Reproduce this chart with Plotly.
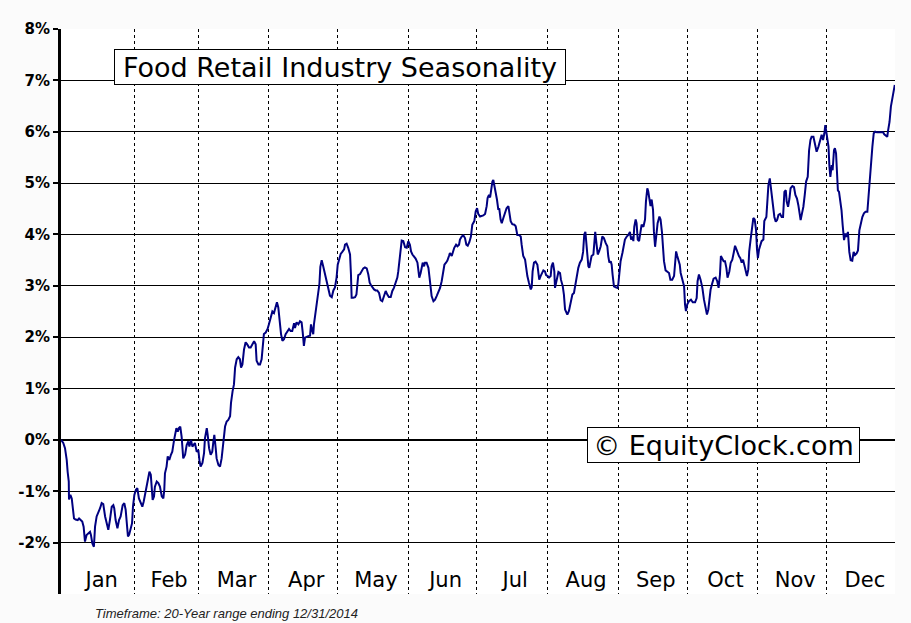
import numpy as np
import plotly.graph_objects as go

# average seasonal path (x = day of year, y = cumulative return in %)
day_of_year = [
    0.0, 1.0, 1.75, 2.5, 2.9, 3.4, 3.5, 4.1, 4.7, 5.1,
    5.7, 6.4, 7.3, 7.9, 8.6, 9.3, 9.9, 10.5, 11.2, 12.0,
    12.7, 13.1, 13.7, 14.4, 14.9, 15.6, 16.3, 17.1, 17.8, 18.5,
    19.3, 20.0, 20.7, 21.4, 22.2, 22.9, 23.3, 23.9, 24.7, 25.4,
    26.1, 27.0, 27.7, 28.3, 28.9, 29.3, 29.8, 30.5, 31.1, 31.5,
    32.1, 32.8, 33.4, 34.1, 34.9, 35.6, 36.2, 36.8, 37.5, 38.2,
    38.7, 39.3, 39.7, 40.1, 40.7, 41.1, 41.9, 42.6, 43.3, 44.1,
    44.8, 45.2, 45.5, 46.2, 46.7, 47.4, 48.1, 48.7, 49.5, 49.9,
    50.5, 51.1, 51.6, 52.2, 52.8, 53.5, 54.3, 55.0, 55.7, 56.2,
    56.9, 57.5, 57.9, 58.6, 59.4, 60.1, 60.6, 61.1, 61.9, 62.6,
    63.0,
    63.8, 64.2, 64.8, 65.5, 66.2, 66.7, 67.1, 67.7, 68.1, 68.9,
    69.6, 70.3, 71.0, 71.8, 72.5, 73.2, 74.0, 74.4, 75.1, 75.7,
    76.2, 76.9, 77.6, 78.3, 78.8, 79.4, 80.1, 80.8, 81.5, 82.3,
    83.0, 83.7, 84.5, 85.2, 85.6, 86.4, 87.1, 87.8, 88.3, 88.8,
    89.6, 90.4, 91.0, 91.8, 92.5, 93.2, 93.9, 94.5, 95.1, 95.8,
    96.3, 96.9, 97.6, 98.3, 99.1, 99.8, 100.5, 101.2, 102.0, 102.4,
    103.1, 103.9, 104.6, 105.3, 105.8, 106.3, 106.8, 107.5, 108.2, 109.0,
    109.4, 110.0, 110.4, 110.7, 111.5, 112.2, 112.6, 113.1, 113.5, 114.1,
    114.8, 115.5, 116.3, 117.0, 117.7, 118.5, 119.2, 119.9,
    120.6, 121.1, 121.7, 122.4, 123.1, 123.9, 124.3, 125.0, 125.7, 126.5,
    126.9, 127.2, 127.9, 128.7, 129.3, 129.7, 130.1, 130.9, 131.6, 132.3,
    133.0, 133.8, 134.5, 135.1, 135.7, 136.3, 137.0, 137.7, 138.4, 139.2,
    139.9, 140.6, 141.4, 142.1, 142.8, 143.5, 144.3, 145.0, 145.7, 146.5,
    147.2, 147.6, 148.2, 148.8, 149.1, 149.8, 150.6, 151.3, 152.0, 152.7,
    153.2, 153.8, 154.5, 155.2, 156.0, 156.4, 156.8, 157.4, 157.8, 158.3,
    158.9, 159.3, 160.0, 160.8, 161.3, 161.8, 162.2, 163.0, 163.7, 164.4,
    165.1, 165.9, 166.6, 167.2, 167.8, 168.5, 169.1, 169.8, 170.2, 171.0,
    171.4, 172.1, 172.9, 173.5, 174.2, 174.6, 175.4, 176.1, 176.8, 177.4,
    178.0, 178.7, 179.4, 180.0, 180.9, 181.5, 182.1,
    182.6, 183.4, 184.1, 184.8, 185.6, 186.3, 186.7, 187.3, 187.8, 188.2,
    188.8, 189.2, 189.6, 190.2, 190.8, 191.4, 191.8, 192.4, 192.9, 193.6,
    194.3, 195.0, 195.8, 196.2, 196.8, 197.5, 198.4, 199.0, 199.7, 200.4,
    201.2, 201.6, 202.3, 203.1, 203.5, 204.1, 204.8, 205.6, 206.0, 206.4,
    207.0, 207.7, 208.5, 208.9, 209.3, 209.9, 210.4, 211.1, 211.8, 212.3,
    213.0, 213.6, 214.3, 214.7, 215.3, 215.9, 216.2, 216.9, 217.7, 218.4,
    218.8, 219.6, 220.1, 220.6, 221.0, 221.6, 222.3, 223.1, 223.8, 224.5,
    225.0, 225.7, 226.4, 227.1, 227.9, 228.5, 229.0, 229.5, 230.1, 230.8,
    231.2, 231.7, 232.2, 233.0, 233.4, 233.8, 234.4, 234.9, 235.5, 236.2,
    236.9, 237.6, 238.4, 239.1, 239.5, 240.0, 240.6, 241.0, 241.4, 242.0,
    242.8, 243.5, 243.9, 244.5, 244.9, 245.7, 246.5,
    246.8, 247.6, 248.3, 249.0, 249.5, 250.0, 250.5, 250.9, 251.5, 251.9,
    252.4, 253.0, 253.4, 254.1, 254.9, 255.6, 256.0, 256.6, 257.0, 257.5,
    258.0, 258.5, 259.1, 259.5, 260.0, 260.5, 261.1, 261.9, 262.4, 263.0,
    263.5, 263.9, 264.6, 265.4, 266.1, 266.7, 267.5, 268.3, 268.7, 269.2,
    269.7, 270.2, 270.8, 271.2, 271.9, 272.7, 273.1, 273.5, 274.1, 274.8,
    275.7, 276.5, 277.5, 278.2, 278.6, 279.2, 279.9, 280.7, 281.4, 282.1,
    282.7, 283.3, 283.7, 284.3, 284.9, 285.6, 286.5, 287.2, 287.8, 288.4,
    288.8, 289.4, 290.0, 290.6, 291.2, 291.7, 292.5, 293.1, 293.8, 294.4,
    295.0, 295.6, 296.1, 296.7, 297.3, 297.9, 298.5, 299.0, 299.6, 300.2,
    300.8, 301.2, 301.8, 302.4, 303.0, 303.6, 304.2, 304.6, 305.0, 305.5,
    306.1, 306.6, 307.4, 307.8,
    308.7, 309.6, 310.2, 310.7, 311.3, 311.8, 312.2, 312.8, 313.4, 314.0,
    314.7, 315.4, 316.0, 316.6, 317.2, 317.6, 318.2, 318.8, 319.3, 320.1,
    320.8, 321.4, 322.1, 322.7, 323.3, 323.7, 324.3, 324.9, 325.5, 326.1,
    326.8, 327.4, 328.0, 328.5, 329.3, 330.0, 330.7, 331.5, 332.2, 332.9,
    333.5, 334.1, 334.5, 335.0, 335.4, 335.9, 336.3, 336.7, 337.3, 337.7,
    338.3, 338.7, 339.2, 339.6, 340.0, 340.5, 341.1, 341.6, 342.1, 342.7,
    343.3, 343.8, 344.4, 345.0, 345.6, 346.3, 346.9, 347.5, 348.2, 348.8,
    349.4, 350.0, 350.7, 351.4, 352.1, 352.9, 353.3, 353.9, 354.5, 355.1,
    355.7, 356.3, 357.1, 358.0, 358.9, 359.8, 360.3, 360.9, 361.6, 362.0,
    362.6, 363.2, 363.8, 364.4, 364.9,
]

avg_return_pct = [
    0.00, -0.06, -0.16, -0.39, -0.62, -0.81, -1.16, -1.07, -1.14, -1.36,
    -1.53, -1.55, -1.56, -1.53, -1.56, -1.59, -1.69, -1.98, -1.85, -1.81,
    -1.79, -1.85, -2.01, -2.08, -1.69, -1.49, -1.43, -1.33, -1.23, -1.25,
    -1.49, -1.66, -1.75, -1.56, -1.30, -1.27, -1.33, -1.56, -1.72, -1.56,
    -1.49, -1.27, -1.23, -1.36, -1.69, -1.88, -1.85, -1.72, -1.62, -1.30,
    -1.07, -0.97, -0.94, -1.14, -1.23, -1.30, -1.20, -1.04, -0.91, -0.71,
    -0.62, -0.68, -0.91, -1.17, -1.10, -0.91, -0.81, -0.84, -0.91, -1.10,
    -1.14, -0.97, -0.65, -0.52, -0.32, -0.39, -0.29, -0.23, 0.00, 0.13,
    0.23, 0.16, 0.23, 0.26, 0.06, -0.36, -0.29, -0.10, -0.03, -0.13,
    0.00, -0.13, -0.10, -0.06, -0.23, -0.20, -0.40, -0.52, -0.45, -0.26,
    0.03,
    0.23, 0.10, -0.16, -0.29, -0.23, -0.03, 0.10, -0.16, -0.36, -0.49,
    -0.52, -0.36, -0.03, 0.26, 0.36, 0.39, 0.46, 0.72, 0.95, 1.08,
    1.41, 1.57, 1.61, 1.57, 1.41, 1.47, 1.76, 1.90, 1.86, 1.80,
    1.80, 1.86, 1.92, 1.86, 1.54, 1.47, 1.47, 1.57, 1.86, 2.06,
    2.09, 2.16, 2.25, 2.39, 2.50, 2.47, 2.61, 2.68, 2.58, 2.25,
    2.06, 1.93, 1.96, 2.06, 2.12, 2.16, 2.12, 2.12, 2.27, 2.18,
    2.29, 2.25, 2.31, 2.29, 2.09, 1.83, 1.99, 2.01, 2.02, 2.03,
    2.25, 2.12, 2.06, 2.25, 2.52, 2.65, 2.81, 3.04, 3.37, 3.50,
    3.37, 3.24, 3.07, 2.94, 2.81, 2.78, 2.91, 2.97,
    3.16, 3.41, 3.54, 3.62, 3.66, 3.71, 3.80, 3.82, 3.74, 3.61,
    3.22, 2.77, 2.77, 2.78, 2.83, 3.09, 3.21, 3.23, 3.30, 3.34,
    3.36, 3.34, 3.22, 3.06, 3.01, 2.97, 2.93, 2.91, 2.91, 2.86,
    2.72, 2.70, 2.80, 2.90, 2.83, 2.78, 2.78, 2.90, 2.96, 3.06,
    3.16, 3.28, 3.58, 3.74, 3.88, 3.87, 3.75, 3.74, 3.87, 3.80,
    3.67, 3.61, 3.58, 3.53, 3.45, 3.25, 3.16, 3.25, 3.38, 3.45,
    3.38, 3.45, 3.45, 3.35, 3.16, 2.96, 2.80, 2.70, 2.73, 2.80,
    2.86, 2.96, 3.09, 3.28, 3.41, 3.45, 3.49, 3.58, 3.64, 3.58,
    3.64, 3.74, 3.80, 3.77, 3.80, 3.90, 3.96, 3.98, 3.93, 3.80,
    3.78, 3.85, 3.96, 4.19, 4.26, 4.45, 4.51,
    4.40, 4.35, 4.36, 4.37, 4.40, 4.55, 4.71, 4.77, 4.72, 4.87,
    5.03, 5.06, 4.97, 4.77, 4.68, 4.48, 4.51, 4.29, 4.22, 4.32,
    4.42, 4.51, 4.55, 4.42, 4.26, 4.20, 4.19, 4.16, 3.99, 3.99,
    3.96, 3.80, 3.58, 3.51, 3.35, 3.19, 3.06, 2.93, 2.97, 3.28,
    3.45, 3.47, 3.41, 3.22, 3.12, 3.19, 3.23, 3.30, 3.28, 3.21,
    3.19, 3.16, 3.19, 3.38, 3.45, 3.28, 2.96, 3.12, 3.27, 3.25,
    3.12, 2.99, 2.83, 2.54, 2.48, 2.44, 2.51, 2.70, 2.83, 2.86,
    2.99, 3.22, 3.35, 3.45, 3.51, 3.66, 4.00, 4.05, 3.73, 3.38,
    3.35, 3.51, 3.58, 3.61, 3.96, 4.05, 3.80, 3.61, 3.67, 3.77,
    3.96, 3.93, 3.83, 3.77, 3.58, 3.45, 3.48, 3.41, 3.22, 2.99,
    2.97, 2.96, 3.03, 3.28, 3.48, 3.64, 3.80,
    3.90, 3.96, 3.99, 4.05, 3.90, 3.96, 3.87, 4.15, 4.29, 4.22,
    3.90, 3.87, 4.02, 4.19, 4.15, 4.29, 4.64, 4.90, 4.84, 4.71,
    4.55, 4.68, 4.48, 4.05, 3.76, 3.96, 4.22, 4.35, 4.29, 4.05,
    3.76, 3.48, 3.30, 3.27, 3.25, 3.12, 3.12, 3.19, 3.48, 3.67,
    3.58, 3.51, 3.41, 3.25, 3.12, 2.99, 2.64, 2.51, 2.64, 2.70,
    2.73, 2.68, 2.68, 2.76, 3.09, 3.22, 3.12, 2.96, 2.73, 2.57,
    2.44, 2.54, 2.70, 2.93, 3.03, 3.14, 3.16, 3.09, 2.96, 3.22,
    3.58, 3.51, 3.48, 3.48, 3.35, 3.16, 3.28, 3.45, 3.51, 3.64,
    3.78, 3.71, 3.64, 3.58, 3.54, 3.45, 3.51, 3.41, 3.28, 3.19,
    3.32, 3.67, 3.90, 4.12, 4.32, 4.29, 4.08, 3.71, 3.54, 3.71,
    3.80, 3.87, 3.90, 4.26,
    4.34, 4.96, 5.09, 4.90, 4.77, 4.47, 4.34, 4.25, 4.28, 4.38,
    4.40, 4.34, 4.34, 4.83, 4.86, 4.64, 4.54, 4.70, 4.90, 4.94,
    4.92, 4.77, 4.70, 4.57, 4.34, 4.28, 4.41, 4.54, 4.77, 5.03,
    5.12, 5.64, 5.84, 5.90, 5.90, 5.71, 5.61, 5.71, 5.84, 5.94,
    5.84, 5.97, 6.13, 6.00, 5.81, 5.71, 5.32, 5.12, 5.35, 5.25,
    5.64, 5.68, 5.58, 5.12, 4.86, 4.83, 4.67, 4.47, 4.18, 3.89,
    4.02, 3.95, 4.05, 3.66, 3.50, 3.49, 3.66, 3.60, 3.63, 3.69,
    4.08, 4.21, 4.34, 4.41, 4.44, 4.44, 4.70, 4.99, 5.35, 5.71,
    5.97, 6.00, 5.99, 5.99, 5.99, 5.99, 5.95, 5.92, 5.90, 6.03,
    6.19, 6.49, 6.62, 6.81, 6.91,
]
assert len(day_of_year) == len(avg_return_pct)

months = ["Jan", "Feb", "Mar", "Apr", "May", "Jun",
          "Jul", "Aug", "Sep", "Oct", "Nov", "Dec"]
month_len = [31, 28, 31, 30, 31, 30, 31, 31, 30, 31, 30, 31]
y_ticks = list(range(-3, 9))
y_labels = [f"{v}%" for v in y_ticks]

month_start = np.cumsum([1] + month_len[:-1])
month_mid = month_start + np.array(month_len) / 2

fig = go.Figure()
fig.add_trace(go.Scatter(x=day_of_year, y=avg_return_pct, mode="lines",
                         line=dict(color="#000080", width=2),
                         hoverinfo="skip", showlegend=False))

fig.update_layout(
    width=911, height=623,
    margin=dict(l=61, r=16, t=29, b=29),
    paper_bgcolor="#fbfbfb",
    plot_bgcolor="white",
    font=dict(family="DejaVu Sans", color="black"),
    showlegend=False,
    xaxis=dict(
        range=[0, 365], tickmode="array", tickvals=month_mid, ticktext=months,
        ticks="", showgrid=False, zeroline=False, showline=False,
        ticklabelposition="inside", ticklabelshift=3,
        tickfont=dict(family="DejaVu Sans", size=21, color="black"),
        minor=dict(tickmode="array", tickvals=month_start[1:], ticks="",
                   showgrid=True, gridcolor="black", gridwidth=1,
                   griddash="3px,3px"),
    ),
    # month-boundary ticks sitting on the 0% line
    xaxis2=dict(
        range=[0, 365], overlaying="x", anchor="free", position=3 / 11,
        tickmode="array", tickvals=list(month_start[1:]) + [365],
        ticks="outside", ticklen=6, tickwidth=2, tickcolor="black",
        showticklabels=False, showgrid=False, zeroline=False, showline=False,
    ),
    yaxis=dict(
        range=[-3, 8], tickmode="array", tickvals=y_ticks, ticktext=y_labels,
        showgrid=True, gridcolor="black", gridwidth=1,
        zeroline=True, zerolinecolor="black", zerolinewidth=2,
        showline=True, linecolor="black", linewidth=3,
        ticks="outside", ticklen=5, tickwidth=2, tickcolor="black",
        tickfont=dict(family="DejaVu Sans", size=15, color="black", weight="bold"),
    ),
)

fig.add_annotation(
    text="Food Retail Industry Seasonality", xref="paper", yref="paper",
    x=0.335, y=0.932, xanchor="center", yanchor="middle", showarrow=False,
    font=dict(family="DejaVu Sans", size=27, color="black"),
    bgcolor="white", bordercolor="black", borderwidth=1, borderpad=0,
    width=450, height=34,
)
fig.add_annotation(
    text="© EquityClock.com", xref="paper", yref="paper",
    x=0.794, y=0.264, xanchor="center", yanchor="middle", showarrow=False,
    font=dict(family="DejaVu Sans", size=27, color="black"),
    bgcolor="white", bordercolor="black", borderwidth=1, borderpad=0,
    width=271, height=34,
)
fig.add_annotation(
    text="Timeframe: 20-Year range ending 12/31/2014", xref="paper", yref="paper",
    x=0.038, y=-0.034, xanchor="left", yanchor="middle", showarrow=False,
    font=dict(family="Liberation Sans", size=13, color="#222", style="italic"),
)

# drop the browser's default 8px body margin so the figure sits at the page corner
fig.write_html("out.html", config={"displayModeBar": False},
               post_script="document.body.style.margin='0';")
